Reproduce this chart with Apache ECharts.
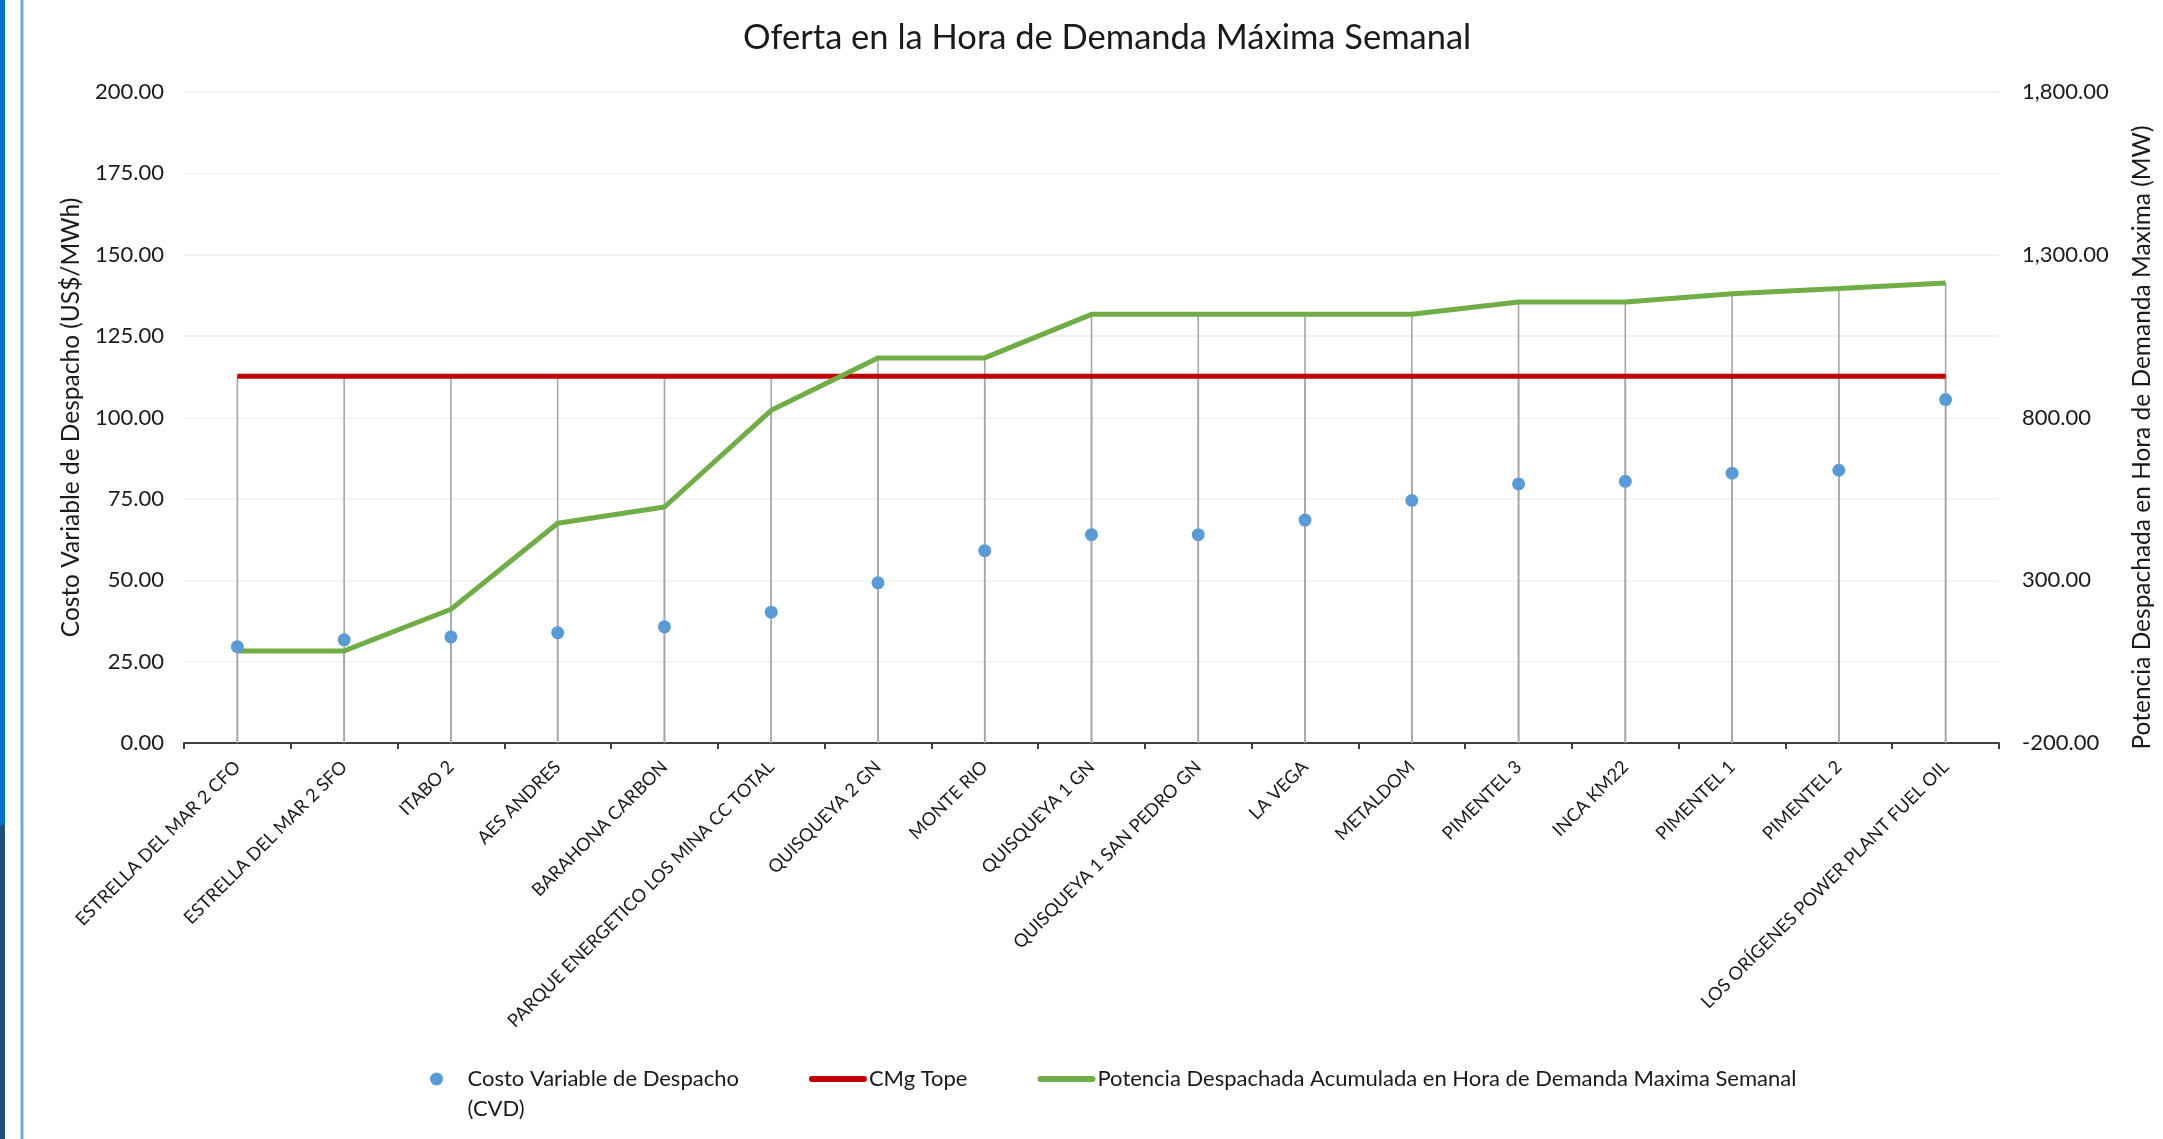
<!DOCTYPE html>
<html>
<head>
<meta charset="utf-8">
<title>Oferta en la Hora de Demanda Máxima Semanal</title>
<script src="https://cdn.jsdelivr.net/npm/echarts@6/dist/echarts.min.js"></script>
<style>
  html, body { margin: 0; padding: 0; background: #fff; }
  #chart { width: 2163px; height: 1139px; }
</style>
</head>
<body>
<div id="chart"></div>
<script>
// categorias (centrales)
var categorias = [
  'ESTRELLA DEL MAR 2 CFO', 'ESTRELLA DEL MAR 2 SFO', 'ITABO 2', 'AES ANDRES',
  'BARAHONA CARBON', 'PARQUE ENERGETICO LOS MINA CC TOTAL', 'QUISQUEYA 2 GN',
  'MONTE RIO', 'QUISQUEYA 1 GN', 'QUISQUEYA 1 SAN PEDRO GN', 'LA VEGA', 'METALDOM',
  'PIMENTEL 3', 'INCA KM22', 'PIMENTEL 1', 'PIMENTEL 2', 'LOS ORÍGENES POWER PLANT FUEL OIL'
];
// Costo Variable de Despacho (US$/MWh)
var cvd = [29.6, 31.7, 32.6, 33.9, 35.7, 40.2, 49.2, 59.1, 64.0, 64.0, 68.5, 74.5, 79.6, 80.4, 82.9, 83.8, 105.5];
// CMg Tope (US$/MWh)
var cmgTope = [112.7, 112.7, 112.7, 112.7, 112.7, 112.7, 112.7, 112.7, 112.7, 112.7, 112.7, 112.7, 112.7, 112.7, 112.7, 112.7, 112.7];
// Potencia acumulada (MW)
var potencia = [83, 83, 211, 475, 525, 822, 983, 983, 1117, 1117, 1117, 1117, 1155, 1155, 1180, 1196, 1213];
// ticks
var ticksIzq = [0, 25, 50, 75, 100, 125, 150, 175, 200];
var ticksDer = [-200, 300, 800, 1300, 1800];

var fuente = 'Lato';
var negro = '#1a1a1a';

var chart = echarts.init(document.getElementById('chart'));

// lineas de caida (drop lines) de cada serie hasta el eje
function lineasCaida(valores, ejeY, piso) {
  return {
    type: 'custom',
    name: 'caida' + ejeY,
    yAxisIndex: ejeY,
    silent: true,
    z: 1,
    data: valores.map(function (v, i) { return [i, v]; }),
    renderItem: function (params, api) {
      var arriba = api.coord([api.value(0), api.value(1)]);
      var abajo = api.coord([api.value(0), piso]);
      return {
        type: 'line',
        shape: { x1: arriba[0], y1: arriba[1], x2: abajo[0], y2: abajo[1] },
        style: { stroke: '#a6a6a6', lineWidth: 1.6 }
      };
    }
  };
}

var option = {
  backgroundColor: '#fff',
  animation: false,
  textStyle: { fontFamily: fuente, color: negro },
  title: {
    text: 'Oferta en la Hora de Demanda Máxima Semanal',
    left: 738,
    top: 15,
    textStyle: { fontFamily: fuente, fontSize: 34.5, fontWeight: 'normal', color: negro }
  },
  graphic: [
    { type: 'rect', shape: { x: 0, y: 0, width: 5, height: 825 }, style: { fill: '#0070c0' } },
    { type: 'rect', shape: { x: 0, y: 825, width: 5, height: 314 }, style: { fill: '#1f4e79' } },
    { type: 'rect', shape: { x: 20, y: 0, width: 4, height: 1139 }, style: { fill: '#bdd7ee' } },
    { type: 'rect', shape: { x: 21, y: 0, width: 2, height: 1139 }, style: { fill: '#6fa8dc' } }
  ],
  grid: { left: 184, right: 161, top: 92, bottom: 396, containLabel: false },
  legend: {
    data: [
      { name: 'Costo Variable de Despacho (CVD)', icon: 'circle' },
      { name: 'CMg Tope', itemStyle: { opacity: 0 }, lineStyle: { width: 6, cap: 'round' } },
      { name: 'Potencia Despachada Acumulada en Hora de Demanda Maxima Semanal', itemStyle: { opacity: 0 }, lineStyle: { width: 6, cap: 'round' } }
    ],
    left: 425,
    top: 1029,
    itemGap: 70,
    itemWidth: 52,
    itemHeight: 13,
    formatter: function (n) {
      // linea vacia arriba para que la primera linea quede alineada con el icono
      return n === 'Costo Variable de Despacho (CVD)' ? '\nCosto Variable de Despacho\n(CVD)' : n;
    },
    textStyle: { fontFamily: fuente, fontSize: 22, color: negro, lineHeight: 30 }
  },
  xAxis: {
    type: 'category',
    data: categorias,
    boundaryGap: true,
    axisLine: { lineStyle: { color: '#404040', width: 2 } },
    axisTick: { show: true, length: 6, lineStyle: { color: '#404040', width: 2 } },
    axisLabel: { rotate: 45, interval: 0, margin: 21, fontFamily: fuente, fontSize: 18.2, color: negro }
  },
  yAxis: [{
    type: 'value',
    min: ticksIzq[0],
    max: ticksIzq[ticksIzq.length - 1],
    interval: ticksIzq[1] - ticksIzq[0],
    name: 'Costo Variable de Despacho (US$/MWh)',
    nameLocation: 'middle',
    nameRotate: 90,
    nameGap: 100,
    nameTextStyle: { fontFamily: fuente, fontSize: 24.5, color: negro },
    axisLine: { show: false },
    axisTick: { show: false },
    axisLabel: { margin: 20, fontFamily: fuente, fontSize: 22, color: negro, formatter: function (v) { return v.toFixed(2); } },
    splitLine: { lineStyle: { color: '#efefef', width: 1.5 } }
  }, {
    type: 'value',
    min: ticksDer[0],
    max: ticksDer[ticksDer.length - 1],
    interval: ticksDer[1] - ticksDer[0],
    name: 'Potencia Despachada en Hora de Demanda Maxima (MW)',
    nameLocation: 'middle',
    nameRotate: 90,
    nameGap: 131,
    nameTextStyle: { fontFamily: fuente, fontSize: 24.5, color: negro, padding: [0, 40, 0, 0] },
    axisLine: { show: false },
    axisTick: { show: false },
    axisLabel: {
      margin: 23, fontFamily: fuente, fontSize: 22, color: negro,
      formatter: function (v) {
        return v.toLocaleString('en-US', { minimumFractionDigits: 2, maximumFractionDigits: 2 });
      }
    },
    splitLine: { show: false }
  }],
  series: [
    lineasCaida(cmgTope, 0, ticksIzq[0]),
    lineasCaida(potencia, 1, ticksDer[0]),
    {
      name: 'CMg Tope',
      type: 'line',
      yAxisIndex: 0,
      data: cmgTope,
      symbol: 'none',
      z: 3,
      lineStyle: { color: '#c00000', width: 5 },
      itemStyle: { color: '#c00000' }
    },
    {
      name: 'Potencia Despachada Acumulada en Hora de Demanda Maxima Semanal',
      type: 'line',
      yAxisIndex: 1,
      data: potencia,
      symbol: 'none',
      z: 4,
      lineStyle: { color: '#70ad47', width: 5 },
      itemStyle: { color: '#70ad47' }
    },
    {
      name: 'Costo Variable de Despacho (CVD)',
      type: 'scatter',
      yAxisIndex: 0,
      data: cvd,
      symbol: 'circle',
      symbolSize: 13,
      z: 5,
      itemStyle: { color: '#5b9bd5', opacity: 1 }
    }
  ]
};

chart.setOption(option);
</script>
</body>
</html>
